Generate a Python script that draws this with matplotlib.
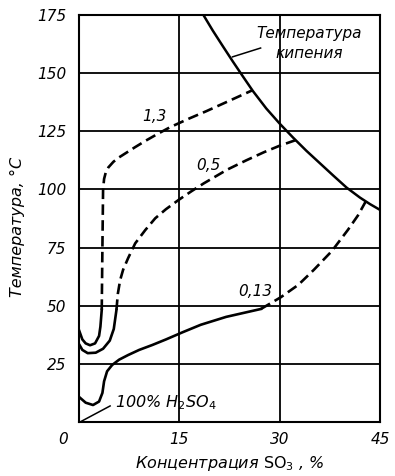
import matplotlib
matplotlib.use("Agg")
import matplotlib.pyplot as plt

plt.rcParams['font.family'] = ['DejaVu Sans']
plt.rcParams['mathtext.fontset'] = 'dejavusans'

# Boiling temperature curve
boil_x = [18.6, 20.0, 21.5, 23.0, 24.5, 26.0, 28.0, 30.0, 32.0, 34.0, 36.0, 38.0, 40.0, 42.0, 43.5, 45.0]
boil_y = [175, 168.3, 161.6, 155.0, 148.6, 142.3, 134.8, 128.3, 122.3, 116.6, 111.3, 106.0, 100.8, 96.5, 93.7, 91.2]

# Curve 1,3 (solid part then dashed part)
c13_solid_x = [0.0, 0.5, 1.0, 1.65, 2.4, 3.0, 3.2, 3.4]
c13_solid_y = [39.5, 35.5, 33.8, 33.0, 33.8, 37.0, 41.0, 48.2]
c13_dash_x = [3.4, 3.5, 3.6, 3.75, 4.0, 4.4, 5.15, 6.0, 7.2, 8.4, 10.0, 11.9, 13.65, 16.4, 19.0, 22.0, 25.9]
c13_dash_y = [48.2, 75.0, 100.0, 104.5, 107.3, 109.5, 111.9, 113.8, 116.0, 118.2, 121.0, 124.1, 126.8, 130.4, 133.6, 137.5, 142.6]

# Curve 0,5
c05_solid_x = [0.0, 0.5, 1.3, 2.5, 3.6, 4.6, 5.2, 5.6]
c05_solid_y = [33.5, 31.0, 29.6, 29.8, 31.5, 35.0, 40.0, 48.2]
c05_dash_x = [5.6, 5.8, 6.15, 6.6, 7.35, 8.4, 9.9, 11.4, 13.0, 14.9, 16.8, 18.65, 22.15, 25.0, 27.65, 30.0, 32.4]
c05_dash_y = [48.2, 55.0, 61.0, 65.5, 70.5, 76.8, 82.5, 87.6, 91.5, 95.5, 99.2, 102.6, 108.5, 112.5, 116.0, 118.8, 121.2]

# Curve 0,13
c013_solid_x = [0.0, 1.0, 2.1, 3.0, 3.5, 3.75, 4.2, 4.95, 6.0, 7.35, 9.0, 10.95, 13.0, 15.5, 18.2, 22.0, 27.2]
c013_solid_y = [10.8, 8.3, 7.3, 8.8, 12.5, 17.5, 21.8, 24.5, 26.8, 28.8, 31.0, 33.1, 35.5, 38.6, 41.8, 45.2, 48.6]
c013_dash_x = [27.2, 30.2, 32.8, 35.1, 37.8, 40.2, 41.7, 42.9]
c013_dash_y = [48.6, 53.7, 59.0, 65.4, 73.5, 82.6, 88.8, 95.0]

# Pointer line to 100% H2SO4 label
h2so4_x = [0.15, 4.65]
h2so4_y = [0.0, 6.9]

x_ticks = [15, 30, 45]
y_ticks = [25, 50, 75, 100, 125, 150, 175]

fig = plt.figure(figsize=(3.95, 4.76), dpi=100)
ax = fig.add_axes([79/395, 1-422/476, 301/395, 407/476])
ax.set_xlim(0, 45)
ax.set_ylim(0, 175)

ax.set_xticks([0] + x_ticks)
ax.set_xticklabels([''] + [str(v) for v in x_ticks])
ax.set_yticks([0] + y_ticks)
ax.set_yticklabels([''] + [str(v) for v in y_ticks])
ax.tick_params(length=0, labelsize=11)
ax.tick_params(axis='x', pad=7)
ax.tick_params(axis='y', pad=9)
for lab in ax.get_xticklabels() + ax.get_yticklabels():
    lab.set_fontstyle('italic')
ax.grid(True, color='black', linewidth=1.3)
for s in ax.spines.values():
    s.set_linewidth(1.5)
ax.set_axisbelow(True)

ax.text(-0.053, -0.044, '0', transform=ax.transAxes, ha='center', va='center',
        fontsize=11, fontstyle='italic')

lw = 1.9
dash = (0, (4, 2))
ax.plot(boil_x, boil_y, color='black', lw=1.8)
ax.plot(c13_solid_x, c13_solid_y, color='black', lw=lw)
ax.plot(c13_dash_x, c13_dash_y, color='black', lw=lw, linestyle=dash)
ax.plot(c05_solid_x, c05_solid_y, color='black', lw=lw)
ax.plot(c05_dash_x, c05_dash_y, color='black', lw=lw, linestyle=dash)
ax.plot(c013_solid_x, c013_solid_y, color='black', lw=lw)
ax.plot(c013_dash_x, c013_dash_y, color='black', lw=lw, linestyle=dash)
ax.plot(h2so4_x, h2so4_y, color='black', lw=1.1)

# leader line for boiling label
ax.plot([22.95, 27.15], [157.0, 160.8], color='black', lw=1.1)

ax.text(34.4, 167.2, 'Температура', ha='center', va='center', fontsize=11, fontstyle='italic')
ax.text(34.4, 158.6, 'кипения', ha='center', va='center', fontsize=11, fontstyle='italic')

ax.text(11.3, 131.3, '1,3', ha='center', va='center', fontsize=11, fontstyle='italic')
ax.text(19.3, 110.5, '0,5', ha='center', va='center', fontsize=11, fontstyle='italic')
ax.text(26.3, 56.1, '0,13', ha='center', va='center', fontsize=11, fontstyle='italic')
ax.text(5.4, 6.4, r'100% $\mathit{H_2SO_4}$', ha='left', va='baseline', fontsize=11.5, fontstyle='italic')

ax.set_ylabel('Температура, °С', fontsize=11.5, fontstyle='italic')
ax.yaxis.set_label_coords(-0.203, 0.48)
ax.yaxis.label.set_va('center')
ax.set_xlabel(r'Концентрация $\mathrm{SO_3}$ , %', fontsize=11.5, fontstyle='italic')
ax.xaxis.set_label_coords(0.5, -0.103)
ax.xaxis.label.set_va('center')

fig.savefig('out.png', dpi=100)
